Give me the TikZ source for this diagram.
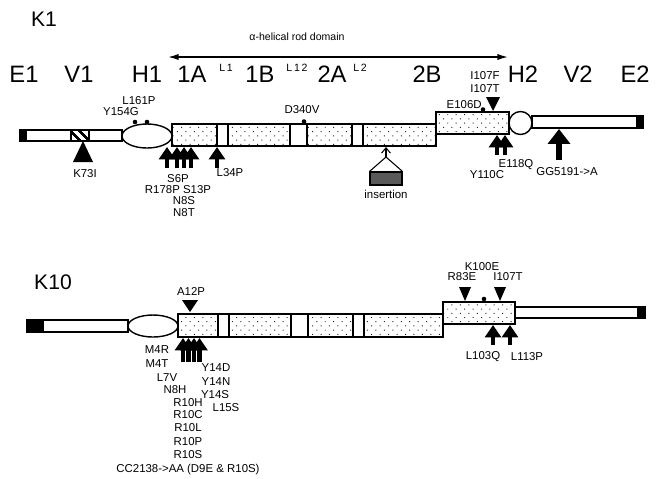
\documentclass[tikz,border=0pt]{standalone}
\usepackage{fontspec}
\setmainfont{Liberation Sans}
\usetikzlibrary{arrows.meta,patterns.meta}

\begin{document}
\begin{tikzpicture}[x=0.02cm, y=-0.02cm,
  rod/.style={draw, line width=0.8pt, pattern={Dots[distance=3.4pt, angle=45, radius=0.4pt]}, pattern color=black!85},
  link/.style={draw, line width=0.8pt, fill=white},
  head/.style={draw, line width=0.8pt, fill=white},
  dom/.style={font=\fontsize{13.5}{14}\selectfont, inner sep=0pt},
  sub/.style={font=\fontsize{6}{7}\selectfont, inner sep=0pt},
  mut/.style={font=\fontsize{6.5}{7}\selectfont, inner sep=0pt},
  gene/.style={font=\fontsize{12}{13}\selectfont, inner sep=0pt},
  uparr/.style={line width=2.8pt, -{Triangle[width=9pt,length=7pt]}},
  bigarr/.style={line width=3.8pt, -{Triangle[width=12.5pt,length=8.5pt]}},
  span/.style={line width=0.8pt, {Latex[length=6pt,width=3.5pt]}-{Latex[length=6pt,width=3.5pt]}},
]
\useasboundingbox (0,0) rectangle (658,478);

% ---------------- K1 ----------------
\node[gene] (k1) at (44,19) {K1};
\node[sub] (rodlbl) at (297,37) {α-helical rod domain};
\coordinate (rodL) at (168,57);
\coordinate (rodR) at (508,57);
\draw[span] (rodL) -- (rodR);

\node[dom] (e1) at (24,74) {E1};
\node[dom] (v1) at (79,74) {V1};
\node[dom] (h1) at (147,74) {H1};
\node[dom] (a1) at (192,74) {1A};
\node[sub] (l1) at (226,68) {L\,1};
\node[dom] (b1) at (260,74) {1B};
\node[sub] (l12) at (297,68) {L\,1\,2};
\node[dom] (a2) at (332,74) {2A};
\node[sub] (l2) at (360,68) {L\,2};
\node[dom] (b2) at (427,74) {2B};
\node[dom] (h2) at (523,74) {H2};
\node[dom] (v2) at (578,74) {V2};
\node[dom] (e2) at (635,74) {E2};

\draw[head] (20,130) rectangle (122,141);
\fill (20,130) rectangle (27,141);
\draw[line width=0.8pt, pattern={Lines[angle=-45,distance=4pt,line width=1.5pt]}] (71,130) rectangle (89,141);
\draw[head] (147,136) ellipse [x radius=25, y radius=12];
\draw[rod] (172,124) rectangle (217,146);
\draw[link] (217,124) rectangle (228,146);
\draw[rod] (228,124) rectangle (290,146);
\draw[link] (290,124) rectangle (307,146);
\draw[rod] (307,124) rectangle (352,146);
\draw[link] (352,124) rectangle (363,146);
\draw[rod] (363,124) rectangle (436,146);
\draw[rod] (436,112) rectangle (509,134);
\draw[head] (532,116) rectangle (643,128);
\fill (636,116) rectangle (643,128);
\draw[head] (520.5,123) circle [radius=11.5];

% markers
\foreach \x in {135,147} \fill (\x,122) circle [radius=2.3];
\fill (304,121.5) circle [radius=2.3];
\fill (483,109.5) circle [radius=2.3];
\fill (83,141) -- (93,162) -- (73,162) -- cycle;
\fill (493,111) -- (500,97) -- (486,97) -- cycle;
\foreach \x in {167,177,184,191} \draw[uparr] (\x,168) -- (\x,147);
\draw[uparr] (217,168) -- (217,147);
\foreach \x in {497,505} \draw[uparr] (\x,155) -- (\x,135);
\draw[bigarr] (559,160) -- (559,129);

% insertion
\node[draw, line width=0.6pt, fill=black!65, minimum width=32*0.02cm, minimum height=13*0.02cm, inner sep=0pt] (ins) at (386,178.5) {};
\coordinate (insTop) at (386,157);
\draw[line width=0.6pt] (ins.north west) -- (insTop) -- (ins.north east);
\draw[line width=0.6pt, -{Straight Barb[length=3pt,width=5pt]}] (insTop) -- (386,147);
\node[mut] (insl) at (386,194) {insertion};

\node[mut] (k73i) at (85,174) {K73I};
\node[mut] (l161p) at (139,101) {L161P};
\node[mut] (y154g) at (121,112) {Y154G};
\node[mut] (s6p) at (178,179) {S6P};
\node[mut] (r178p) at (178,190) {R178P S13P};
\node[mut] (n8s) at (184,201) {N8S};
\node[mut] (n8t) at (184,213) {N8T};
\node[mut] (l34p) at (230,173) {L34P};
\node[mut] (d340v) at (302,110) {D340V};
\node[mut] (i107f) at (485,76) {I107F};
\node[mut] (i107t) at (485,89) {I107T};
\node[mut, anchor=east] (e106d) at (482,105) {E106D};
\node[mut] (e118q) at (516,165) {E118Q};
\node[mut] (y110c) at (487,175) {Y110C};
\node[mut] (gg) at (567,172) {GG5191->A};

% ---------------- K10 ----------------
\node[gene] (k10) at (53,282) {K10};

\draw[head] (27,320) rectangle (128,332);
\fill (27,320) rectangle (44,332);
\draw[head] (153,326) ellipse [x radius=25, y radius=11];
\draw[rod] (178,314) rectangle (218,337);
\draw[link] (218,314) rectangle (229,337);
\draw[rod] (229,314) rectangle (291,337);
\draw[link] (291,314) rectangle (308,337);
\draw[rod] (308,314) rectangle (353,337);
\draw[link] (353,314) rectangle (364,337);
\draw[rod] (364,314) rectangle (443,337);
\draw[rod] (443,302) rectangle (515,324);
\draw[head] (515,307) rectangle (645,318);
\fill (637,307) rectangle (645,318);

% markers
\fill (190,312) -- (198,300) -- (182,300) -- cycle;
\fill (465,301) -- (471,287) -- (459,287) -- cycle;
\fill (500,301) -- (506,287) -- (494,287) -- cycle;
\fill (484,299) circle [radius=2.3];
\foreach \x in {183,188.5,194,199.5} \draw[uparr, line width=2.4pt] (\x,362) -- (\x,338);
\draw[uparr] (493,345) -- (493,325);
\draw[uparr] (510,345) -- (510,325);

\node[mut] (a12p) at (191,291) {A12P};
\node[mut] (r83e) at (462,277) {R83E};
\node[mut] (k100e) at (482,267) {K100E};
\node[mut] (i107t2) at (508,277) {I107T};
\node[mut] (l103q) at (483,357) {L103Q};
\node[mut] (l113p) at (527,357) {L113P};

\node[mut] (m4r) at (157,350) {M4R};
\node[mut] (m4t) at (157,364) {M4T};
\node[mut] (l7v) at (167,378) {L7V};
\node[mut] (n8h) at (175,390) {N8H};
\node[mut] (r10h) at (188,403) {R10H};
\node[mut] (r10c) at (188,415) {R10C};
\node[mut] (r10l) at (188,428) {R10L};
\node[mut] (r10p) at (188,442) {R10P};
\node[mut] (r10s) at (188,455) {R10S};
\node[mut] (cc) at (188,470) {CC2138->AA (D9E \& R10S)};
\node[mut] (y14d) at (216,368) {Y14D};
\node[mut] (y14n) at (216,382) {Y14N};
\node[mut] (y14s) at (215,395) {Y14S};
\node[mut] (l15s) at (226,408) {L15S};

\end{tikzpicture}
\end{document}
